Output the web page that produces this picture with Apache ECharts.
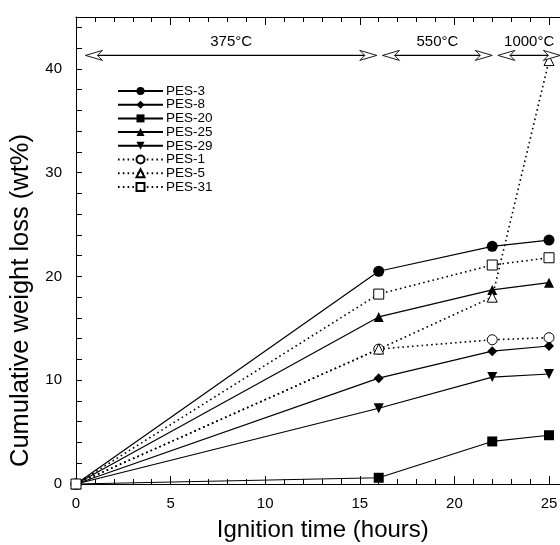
<!DOCTYPE html>
<html>
<head>
<meta charset="utf-8">
<script src="https://cdn.jsdelivr.net/npm/echarts@6/dist/echarts.min.js"></script>
<style>
  html, body { margin: 0; padding: 0; background: #fff; }
  #chart { width: 560px; height: 545px; }
</style>
</head>
<body>
<div id="chart"></div>
<script>
// ignition time (hours)
const hours = [0, 16, 22, 25];

// cumulative weight loss (wt%)
const pes3 = [0, 20.5, 22.9, 23.5];
const pes8 = [0, 10.2, 12.8, 13.3];
const pes20 = [0, 0.6, 4.1, 4.7];
const pes25 = [0, 16.1, 18.7, 19.4];
const pes29 = [0, 7.3, 10.3, 10.6];
const pes1 = [0, 13.0, 13.9, 14.1];
const pes5 = [0, 13.0, 18.0, 40.8];
const pes31 = [0, 18.3, 21.1, 21.8];

// temperature stages: [start, end, label]
const stages = [
  [0.5, 15.9, "375°C"],
  [16.2, 22.0, "550°C"],
  [22.3, 25.6, "1000°C"],
];
const stageLevel = 41.3;

const yLabels = [0, 10, 20, 30, 40];
const xLabels = [0, 5, 10, 15, 20, 25];

const FONT = "Liberation Sans, Arial, Helvetica, sans-serif";

const myChart = echarts.init(document.getElementById("chart"));

function pts(values) {
  return hours.map((h, i) => [h, values[i]]);
}

function makeSeries(name, values, symbol, size, dotted, rotate) {
  return {
    name: name,
    type: "line",
    data: pts(values),
    symbol: symbol,
    symbolSize: size,
    symbolRotate: rotate || 0,
    showAllSymbol: true,
    z: 3,
    lineStyle: {
      color: "#000",
      width: dotted ? 1.6 : 1.2,
      type: dotted ? [1.6, 3.2] : "solid",
    },
    itemStyle: {
      color: dotted ? "#fff" : "#000",
      borderColor: "#000",
      borderWidth: dotted ? 1 : 0,
      opacity: 1,
    },
    emphasis: { disabled: true },
  };
}

// double headed hollow arrows for the temperature stages
function renderArrow(params, api) {
  const a = api.coord([api.value(0), stageLevel]);
  const b = api.coord([api.value(1), stageLevel]);
  const L = 17;
  const H = 5;
  const N = 5;
  const y = a[1];
  return {
    type: "group",
    children: [
      {
        type: "line",
        shape: { x1: a[0] + L - N, y1: y, x2: b[0] - L + N, y2: y },
        style: { stroke: "#000", lineWidth: 1.2 },
      },
      {
        type: "polygon",
        shape: {
          points: [
            [a[0], y],
            [a[0] + L, y - H],
            [a[0] + L - N, y],
            [a[0] + L, y + H],
          ],
        },
        style: { fill: "#fff", stroke: "#000", lineWidth: 0.9 },
      },
      {
        type: "polygon",
        shape: {
          points: [
            [b[0], y],
            [b[0] - L, y - H],
            [b[0] - L + N, y],
            [b[0] - L, y + H],
          ],
        },
        style: { fill: "#fff", stroke: "#000", lineWidth: 0.9 },
      },
      {
        type: "text",
        x: (a[0] + b[0]) / 2,
        y: y - 14,
        style: {
          text: stages[params.dataIndex][2],
          font: "15px " + FONT,
          fill: "#000",
          align: "center",
          verticalAlign: "middle",
        },
      },
    ],
  };
}

const axisLineStyle = { lineStyle: { color: "#000", width: 1 } };

myChart.setOption({
  animation: false,
  backgroundColor: "#fff",
  textStyle: { fontFamily: FONT, color: "#000" },
  grid: {
    left: 76,
    top: 17,
    width: 30 * 18.92,
    height: 467,
    outerBoundsMode: "none",
  },
  legend: {
    orient: "vertical",
    left: 112,
    top: 79,
    itemWidth: 45,
    itemHeight: 10,
    itemGap: -0.3,
    selectedMode: false,
    textStyle: { fontSize: 13.5, color: "#000", fontFamily: FONT, padding: [0, 0, 0, -2] },
    data: ["PES-3", "PES-8", "PES-20", "PES-25", "PES-29", "PES-1", "PES-5", "PES-31"],
  },
  xAxis: [
    {
      type: "value",
      min: 0,
      max: 30,
      interval: 5,
      name: "Ignition time (hours)",
      nameLocation: "middle",
      nameGap: 34,
      nameTextStyle: { fontSize: 24, color: "#000", fontFamily: FONT, padding: [0, 74, 0, 0] },
      axisLine: axisLineStyle,
      axisTick: { inside: true, length: 8, lineStyle: { color: "#000" } },
      minorTick: { show: true, splitNumber: 5, length: 5, lineStyle: { color: "#000" } },
      splitLine: { show: false },
      axisLabel: {
        margin: 12,
        fontSize: 15,
        color: "#000",
        fontFamily: FONT,
        formatter: (v) => (xLabels.includes(v) ? String(v) : ""),
      },
    },
    {
      type: "value",
      position: "top",
      min: 0,
      max: 30,
      interval: 5,
      axisLine: axisLineStyle,
      axisTick: { inside: true, length: 8, lineStyle: { color: "#000" } },
      minorTick: { show: true, splitNumber: 5, length: 5, lineStyle: { color: "#000" } },
      splitLine: { show: false },
      axisLabel: { show: false },
    },
  ],
  yAxis: {
    type: "value",
    min: 0,
    max: 45,
    interval: 2,
    name: "Cumulative weight loss (wt%)",
    nameLocation: "middle",
    nameGap: 38,
    nameTextStyle: { fontSize: 25.5, color: "#000", fontFamily: FONT, padding: [0, 100, 0, 0] },
    axisLine: axisLineStyle,
    axisTick: { inside: true, length: 6, lineStyle: { color: "#000" } },
    splitLine: { show: false },
    axisLabel: {
      margin: 14,
      fontSize: 15,
      color: "#000",
      fontFamily: FONT,
      formatter: (v) => (yLabels.includes(v) ? String(v) : ""),
    },
  },
  series: [
    makeSeries("PES-3", pes3, "circle", 11, false),
    makeSeries("PES-8", pes8, "diamond", 10, false),
    makeSeries("PES-20", pes20, "rect", 10, false),
    makeSeries("PES-25", pes25, "triangle", 10, false),
    makeSeries("PES-29", pes29, "triangle", 10, false, 180),
    makeSeries("PES-1", pes1, "circle", 10, true),
    makeSeries("PES-5", pes5, "triangle", 10, true),
    makeSeries("PES-31", pes31, "rect", 10, true),
    {
      type: "custom",
      name: "stages",
      data: stages.map((s) => [s[0], s[1]]),
      renderItem: renderArrow,
      silent: true,
      z: 4,
    },
  ],
});
</script>
</body>
</html>
